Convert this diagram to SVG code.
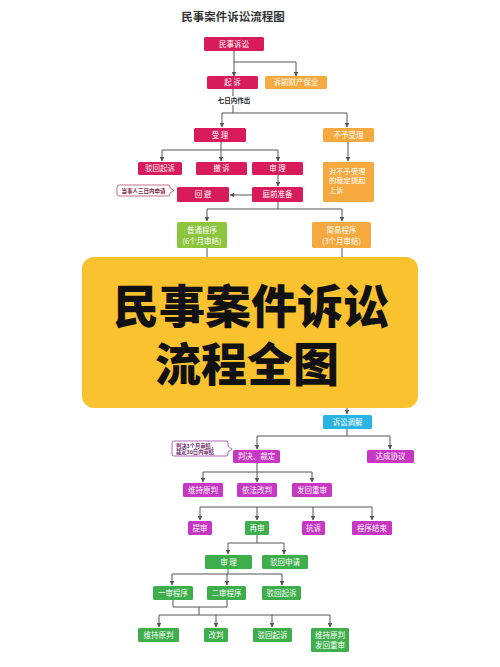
<svg xmlns="http://www.w3.org/2000/svg" width="500" height="667" viewBox="0 0 500 667">
<defs>
<marker id="a" viewBox="0 0 6 6" refX="5.5" refY="3" markerWidth="4.5" markerHeight="4.5" orient="auto" markerUnits="userSpaceOnUse"><path d="M0,0 L6,3 L0,6 Z" fill="#555"/></marker>
<style>
text{font-family:"Noto Sans CJK SC","Noto Sans",sans-serif;}
.t{font-size:7.5px;fill:#fff;text-anchor:middle;}
.cr{fill:#d81b5a;}
.or{fill:#f5a93e;}
.lg{fill:#8cc63f;}
.gr{fill:#3dae4b;}
.mg{fill:#c737c4;}
.bl{fill:#2bb3e3;}
.ln{fill:none;stroke:#555;stroke-width:1;}
.ar{fill:none;stroke:#555;stroke-width:1;marker-end:url(#a);}
</style>
</defs>
<rect width="500" height="667" fill="#fff"/>
<text x="233" y="21" style="font-size:11.5px;font-weight:bold;fill:#333;text-anchor:middle;">民事案件诉讼流程图</text>

<g id="connectors">
<path class="ar" d="M234,51 V76"/>
<path class="ar" d="M234,62 H296 V76"/>
<path class="ln" d="M233,89 V96"/>
<path class="ln" d="M233,105 V113 M222,113 H347"/>
<path class="ar" d="M222,113 V127"/>
<path class="ar" d="M347,113 V127"/>
<path class="ar" d="M348,142 V161"/>
<path class="ln" d="M221,142 V150 M162,150 H278"/>
<path class="ar" d="M162,150 V161"/>
<path class="ar" d="M221,150 V161"/>
<path class="ar" d="M278,150 V161"/>
<path class="ar" d="M278,175 V186"/>
<path class="ar" d="M252,195 H230"/>
<path class="ln" d="M278,202 V209 M207,209 H342"/>
<path class="ar" d="M207,209 V221"/>
<path class="ar" d="M342,209 V221"/>
<path class="ln" d="M207,248 V258"/>
<path class="ln" d="M342,248 V258"/>
<path class="ar" d="M347,406 V414"/>
<path class="ln" d="M347,429 V436 M257,436 H390"/>
<path class="ar" d="M257,436 V449"/>
<path class="ar" d="M390,436 V449"/>
<path class="ln" d="M257,463 V472 M203,472 H312"/>
<path class="ar" d="M203,472 V482"/>
<path class="ar" d="M257,472 V482"/>
<path class="ar" d="M312,472 V482"/>
<path class="ln" d="M200,507 H372"/>
<path class="ar" d="M200,507 V520"/>
<path class="ar" d="M257,507 V520"/>
<path class="ar" d="M313,507 V520"/>
<path class="ar" d="M372,507 V520"/>
<path class="ln" d="M257,535 V543 M228,543 H284"/>
<path class="ar" d="M228,543 V554"/>
<path class="ar" d="M284,543 V554"/>
<path class="ln" d="M228,569 V574 M172,574 H282"/>
<path class="ar" d="M172,574 V585"/>
<path class="ar" d="M227,574 V585"/>
<path class="ar" d="M282,574 V585"/>
<path class="ln" d="M173,600 V607 H227 V600 M199,607 V615 M159,615 H330"/>
<path class="ar" d="M159,615 V627"/>
<path class="ar" d="M216,615 V627"/>
<path class="ar" d="M272,615 V627"/>
<path class="ar" d="M330,615 V627"/>
</g>
<text x="234" y="103" style="font-size:6.5px;font-weight:bold;fill:#222;text-anchor:middle;">七日内作出</text>

<g id="n1"><rect class="cr" x="204" y="37" width="60" height="14" rx="1.5"/><text class="t" x="234" y="46.7">民事诉讼</text></g>
<g id="n2"><rect class="cr" x="207" y="76" width="51" height="13" rx="1.5"/><text class="t" x="232.5" y="85.2">起 诉</text></g>
<g id="n3"><rect class="or" x="265" y="76" width="62" height="13" rx="1.5"/><text class="t" x="296" y="85.2">诉前财产保全</text></g>
<g id="n4"><rect class="cr" x="194" y="128" width="52" height="14" rx="1.5"/><text class="t" x="220" y="137.7">受 理</text></g>
<g id="n5"><rect class="or" x="323" y="128" width="51" height="14" rx="1.5"/><text class="t" x="348.5" y="137.7">不予受理</text></g>
<g id="n6"><rect class="cr" x="138" y="162" width="44" height="13" rx="1.5"/><text class="t" x="160" y="171.2">驳回起诉</text></g>
<g id="n7"><rect class="cr" x="196" y="162" width="51" height="13" rx="1.5"/><text class="t" x="221.5" y="171.2">撤 诉</text></g>
<g id="n8"><rect class="cr" x="252" y="162" width="51" height="13" rx="1.5"/><text class="t" x="277.5" y="171.2">审 理</text></g>
<g id="n9"><rect class="or" x="323" y="162" width="51" height="40" rx="1.5"/><text style="font-size:7.3px;fill:#fff;" x="329" y="173.5">对不予受理</text><text style="font-size:7.3px;fill:#fff;" x="329" y="183.3">的裁定提起</text><text style="font-size:7.3px;fill:#fff;" x="329" y="193.1">上诉</text></g>
<g id="n10"><rect class="cr" x="177" y="187" width="52" height="15" rx="1.5"/><text class="t" x="203" y="197.2">回 避</text></g>
<g id="n11"><rect class="cr" x="252" y="187" width="51" height="15" rx="1.5"/><text class="t" x="277.5" y="197.2">庭前准备</text></g>
<g id="c1"><path d="M119,185 H168 Q170,185 170,187 V188 L174,190.5 L170,193 V194 Q170,196 168,196 H119 Q117,196 117,194 V187 Q117,185 119,185 Z" fill="#fff" stroke="#b04a6a" stroke-width="0.8"/><text x="143.5" y="192.6" style="font-size:5.5px;fill:#7a1f3d;text-anchor:middle;font-weight:bold;">当事人三日内申请</text></g>
<g id="n12"><rect class="lg" x="177" y="222" width="50" height="26" rx="1.5"/><text class="t" x="202" y="233">普通程序</text><text class="t" x="202" y="243.5">(6个月审结)</text></g>
<g id="n13"><rect class="or" x="312" y="222" width="59" height="26" rx="1.5"/><text class="t" x="341.5" y="233">简易程序</text><text class="t" x="341.5" y="243.5">(3个月审结)</text></g>

<g id="banner"><rect x="82" y="257" width="336" height="151" rx="12" fill="#fbc230"/>
<text x="251" y="323" style="font-size:46px;font-weight:900;fill:#111;text-anchor:middle;">民事案件诉讼</text>
<text x="247" y="381" style="font-size:46px;font-weight:900;fill:#111;text-anchor:middle;">流程全图</text></g>

<g id="n14"><rect class="bl" x="323" y="415" width="49" height="14" rx="1.5"/><text class="t" x="347.5" y="424.7">诉讼调解</text></g>
<g id="n15"><rect class="mg" x="233" y="450" width="47" height="13" rx="1.5"/><text class="t" x="256.5" y="459.2">判决、裁定</text></g>
<g id="n16"><rect class="mg" x="367" y="450" width="47" height="13" rx="1.5"/><text class="t" x="390.5" y="459.2">达成协议</text></g>
<g id="c2"><path d="M174,441 H226 Q228,441 228,443 V446 L232,449 L228,452 V454 Q228,456 226,456 H174 Q172,456 172,454 V443 Q172,441 174,441 Z" fill="#fff" stroke="#a040a0" stroke-width="0.8"/><text x="176" y="447.5" style="font-size:5.3px;fill:#6a1f6a;font-weight:bold;">判决3个月审结，</text><text x="176" y="454" style="font-size:5.3px;fill:#6a1f6a;font-weight:bold;">裁定30日内审结</text></g>
<g id="n17"><rect class="mg" x="183" y="483" width="40" height="14" rx="1.5"/><text class="t" x="203" y="492.7">维持原判</text></g>
<g id="n18"><rect class="mg" x="237" y="483" width="40" height="14" rx="1.5"/><text class="t" x="257" y="492.7">依法改判</text></g>
<g id="n19"><rect class="mg" x="292" y="483" width="40" height="14" rx="1.5"/><text class="t" x="312" y="492.7">发回重审</text></g>
<g id="n20"><rect class="mg" x="188" y="521" width="24" height="14" rx="1.5"/><text class="t" x="200" y="530.7">提审</text></g>
<g id="n21"><rect class="gr" x="245" y="521" width="24" height="14" rx="1.5"/><text class="t" x="257" y="530.7">再审</text></g>
<g id="n22"><rect class="mg" x="302" y="521" width="23" height="14" rx="1.5"/><text class="t" x="313.5" y="530.7">抗诉</text></g>
<g id="n23"><rect class="mg" x="352" y="521" width="40" height="14" rx="1.5"/><text class="t" x="372" y="530.7">程序结束</text></g>
<g id="n24"><rect class="gr" x="205" y="555" width="47" height="14" rx="1.5"/><text class="t" x="228.5" y="564.7">审 理</text></g>
<g id="n25"><rect class="gr" x="262" y="555" width="46" height="14" rx="1.5"/><text class="t" x="285" y="564.7">驳回申请</text></g>
<g id="n26"><rect class="gr" x="153" y="586" width="40" height="14" rx="1.5"/><text class="t" x="173" y="595.7">一审程序</text></g>
<g id="n27"><rect class="gr" x="207" y="586" width="39" height="14" rx="1.5"/><text class="t" x="226.5" y="595.7">二审程序</text></g>
<g id="n28"><rect class="gr" x="262" y="586" width="39" height="14" rx="1.5"/><text class="t" x="281.5" y="595.7">驳回起诉</text></g>
<g id="n29"><rect class="gr" x="138" y="628" width="41" height="14" rx="1.5"/><text class="t" x="158.5" y="637.7">维持原判</text></g>
<g id="n30"><rect class="gr" x="204" y="628" width="24" height="14" rx="1.5"/><text class="t" x="216" y="637.7">改判</text></g>
<g id="n31"><rect class="gr" x="253" y="628" width="39" height="14" rx="1.5"/><text class="t" x="272.5" y="637.7">驳回起诉</text></g>
<g id="n32"><rect class="gr" x="311" y="628" width="38" height="24" rx="1.5"/><text class="t" x="330" y="638">维持原判</text><text class="t" x="330" y="648">发回重审</text></g>
</svg>
